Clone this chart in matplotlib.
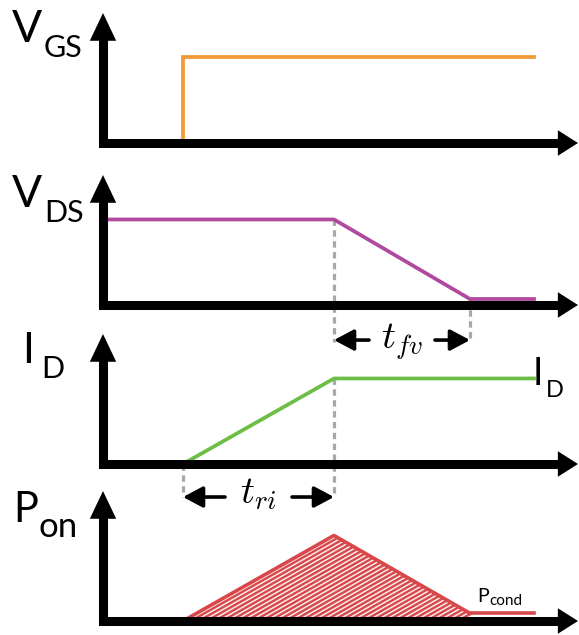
import numpy as np
import matplotlib.pyplot as plt
from matplotlib.patches import Polygon
from matplotlib.collections import LineCollection

plt.rcParams['font.family'] = ['Lato', 'DejaVu Sans']
plt.rcParams['mathtext.fontset'] = 'cm'

# switching instants (arbitrary time units, origin at the y axis)
t_on = 0.80       # gate step, drain current starts to rise
t_ri_end = 2.31   # current rise done, drain voltage starts to fall
t_fv_end = 3.67   # voltage fall done
t_stop = 4.31

vgs_t = [t_on, t_on, t_stop]
vgs = [0.0, 1.0, 1.0]

vds_t = [0.0, t_ri_end, t_fv_end, t_stop]
vds = [1.0, 1.0, 0.07, 0.07]

id_t = [t_on, t_ri_end, t_stop]
id_vals = [0.0, 1.0, 1.0]

pon_t = [t_on, t_ri_end, t_fv_end]
pon = [0.0, 1.0, 0.09]
pcond_t = [t_fv_end, t_stop]
pcond = [0.09, 0.09]

ORANGE = '#F39A37'
MAGENTA = '#B04A9E'
GREEN = '#6CBE46'
RED = '#D8474A'
GREY = '#A8A8A8'

W, H = 579, 635
X0 = 103          # y axis position, px
PANEL_H = 130     # axis height, px
XMAX, YMAX = 4.76, 1.52
X_TIP = 4.75

fig = plt.figure(figsize=(W / 100, H / 100), dpi=100)


def add_panel(base_px):
    ax = fig.add_axes([X0 / W, 1 - base_px / H, 1 - X0 / W, PANEL_H / H])
    ax.set_xlim(0, XMAX)
    ax.set_ylim(0, YMAX)
    ax.axis('off')
    # thick L-shaped axes with arrow heads
    ax.plot([0, 0, X_TIP - 0.1], [YMAX - 0.2, 0, 0], color='black', lw=6.5,
            solid_joinstyle='miter', solid_capstyle='butt', clip_on=False, zorder=5)
    ax.annotate('', xy=(0, YMAX), xytext=(0, YMAX - 0.4), annotation_clip=False,
                arrowprops=dict(arrowstyle='-|>,head_length=2.0,head_width=0.95',
                                mutation_scale=10, lw=0, color='black',
                                shrinkA=0, shrinkB=0), zorder=5)
    ax.annotate('', xy=(X_TIP, 0), xytext=(X_TIP - 0.3, 0), annotation_clip=False,
                arrowprops=dict(arrowstyle='-|>,head_length=1.45,head_width=0.92',
                                mutation_scale=10, lw=0, color='black',
                                shrinkA=0, shrinkB=0), zorder=5)
    return ax


def label(x, y, s, size):
    fig.text(x / W, 1 - y / H, s, fontsize=size, ha='left', va='baseline')


def dashed(ax, t, y0, y1):
    ax.plot([t, t], [y0, y1], color=GREY, lw=2.3, ls=(0, (2.0, 1.4)),
            clip_on=False, zorder=1)


def interval(ax, t0, t1, y, text, y_text, arrow_len):
    style = dict(arrowstyle='-|>,head_length=0.6,head_width=0.32', mutation_scale=20,
                 lw=2.6, color='black', shrinkA=0, shrinkB=0)
    ax.annotate('', xy=(t0, y), xytext=(t0 + arrow_len, y), arrowprops=style,
                annotation_clip=False)
    ax.annotate('', xy=(t1, y), xytext=(t1 - arrow_len, y), arrowprops=style,
                annotation_clip=False)
    ax.text((t0 + t1) / 2, y_text, text, ha='center', va='baseline', fontsize=28,
            clip_on=False)


ax1 = add_panel(143)
ax2 = add_panel(305)
ax3 = add_panel(464)
ax4 = add_panel(621)

# V_GS
ax1.plot(vgs_t, vgs, color=ORANGE, lw=2.7, solid_joinstyle='miter', zorder=3)

# V_DS
ax2.plot(vds_t, vds, color=MAGENTA, lw=2.7, zorder=3)
dashed(ax2, t_ri_end, vds[1], -0.43)
dashed(ax2, t_fv_end, vds[2], -0.43)
interval(ax2, t_ri_end, t_fv_end, -0.41, r'$t_{fv}$', -0.51, 0.35)

# I_D
ax3.plot(id_t, id_vals, color=GREEN, lw=2.7, zorder=3)
dashed(ax3, t_ri_end, id_vals[1], -0.39)
dashed(ax3, t_on, 0, -0.39)
interval(ax3, t_on, t_ri_end, -0.386, r'$t_{ri}$', -0.46, 0.42)

# P_on: hatched switching-loss triangle plus conduction level
area = Polygon(np.column_stack([pon_t + [t_fv_end], pon + [0.0]]), closed=True,
               facecolor='#FDEDED', edgecolor='none', zorder=2)
ax4.add_patch(area)
slope = (pon[1] - pon[0]) / (pon_t[1] - pon_t[0])
rise = slope * (t_fv_end - t_on)
gap = 0.052
stripes = [[(t_on, -k * gap), (t_fv_end, rise - k * gap)]
           for k in range(int(rise / gap) + 2)]
hatch = LineCollection(stripes, colors=RED, linewidths=1.7, zorder=2.5)
hatch.set_clip_path(area)
ax4.add_collection(hatch)
ax4.plot(pon_t, pon, color=RED, lw=2.6, zorder=3)
ax4.plot(pcond_t, pcond, color=RED, lw=2.6, zorder=3)

# axis names
label(12, 42, 'V', 32)
label(44, 57, 'GS', 22)
label(12, 207, 'V', 32)
label(44, 222, 'DS', 22)
label(22, 363, 'I', 31)
label(41, 378, 'D', 22)
label(13, 522, 'P', 30)
label(39, 537, 'on', 25)

# curve tags
label(533, 385, 'I', 27)
label(546, 397, 'D', 17)
label(477, 602, 'P', 14)
label(489, 605, 'cond', 11)

fig.savefig('out.png', dpi=100)
